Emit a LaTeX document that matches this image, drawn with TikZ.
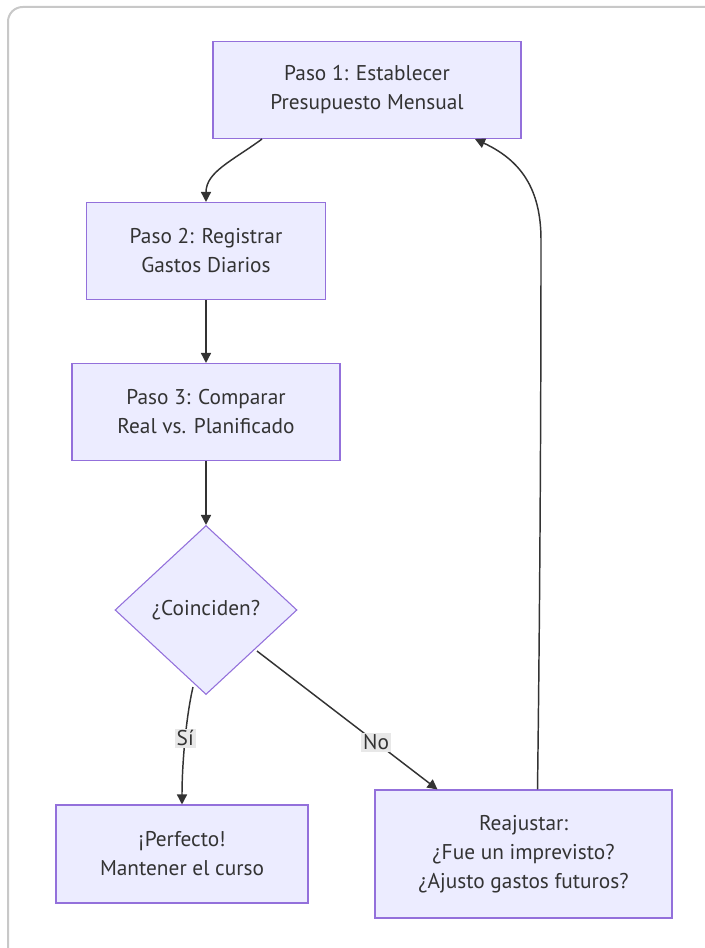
\documentclass[tikz,border=0pt]{standalone}
\usepackage{fontspec}
\setmainfont{PT Sans}
\usetikzlibrary{arrows.meta,shapes.geometric}
\definecolor{boxfill}{HTML}{ECECFF}
\definecolor{boxline}{HTML}{9370DB}
\definecolor{ink}{HTML}{333333}
\definecolor{labelbg}{HTML}{E8E8E8}
\definecolor{frame}{HTML}{C8C8C8}
\begin{document}
\begin{tikzpicture}[x=0.75pt,y=-0.75pt,
  every node/.style={text=ink,font=\fontsize{16pt}{21.75pt}\selectfont},
  stepbox/.style={rectangle,draw=boxline,fill=boxfill,line width=0.8pt,
    align=center,inner sep=0pt},
  choice/.style={diamond,draw=boxline,fill=boxfill,line width=0.8pt,
    inner sep=0pt,aspect=1.08,minimum width=136.5pt,minimum height=126.75pt},
  link/.style={draw=ink,line width=1.1pt,-{Triangle[length=7.5pt,width=7.5pt]}},
  tag/.style={fill=labelbg,inner sep=1.5pt}]
  \useasboundingbox (0,0) rectangle (705,948);
  % outer card
  \draw[frame,line width=1.5pt,rounded corners=11pt] (8,970) -- (8,7) -- (730,7);

  \node[stepbox,minimum width=231pt,minimum height=72.75pt] (s1) at (367,90)
    {Paso 1: Establecer\\Presupuesto Mensual};
  \node[stepbox,minimum width=179.25pt,minimum height=72.75pt] (s2) at (206,251)
    {Paso 2: Registrar\\Gastos Diarios};
  \node[stepbox,minimum width=201pt,minimum height=72.75pt] (s3) at (206,412)
    {Paso 3: Comparar\\Real vs. Planificado};
  \node[choice] (q) at (206,610) {¿Coinciden?};
  \node[stepbox,minimum width=189pt,minimum height=73.5pt] (ok) at (182,854)
    {¡Perfecto!\\Mantener el curso};
  \node[stepbox,minimum width=222.75pt,minimum height=96pt] (fix) at (523.5,854)
    {Reajustar:\\¿Fue un imprevisto?\\¿Ajusto gastos futuros?};

  % exit points on the decision and the loop's bend
  \coordinate (ya) at ([xshift=-9.75pt,yshift=6pt]q.south);
  \coordinate (na) at ([xshift=38.25pt,yshift=33pt]q.south);
  \coordinate (bend) at (541,240);

  \draw[link] ([xshift=-78.75pt]s1.south) .. controls +(-30,22) and +(0,-30) .. (s2.north);
  \draw[link] (s2.south) -- (s3.north);
  \draw[link] (s3.south) -- (q.north);
  \draw[link] (ya) .. controls +(-7,30) and +(0,-40) .. (ok.north)
    node[pos=0.47,tag] {Sí};
  \draw[link] (na) -- ([xshift=-64.5pt]fix.north) node[pos=0.66,tag] {No};
  \draw[link] ([xshift=10.5pt]fix.north) .. controls (540,600) and (541,400) .. (bend)
    .. controls (541,188) and (520,160) .. ([xshift=81pt]s1.south);
\end{tikzpicture}
\end{document}
